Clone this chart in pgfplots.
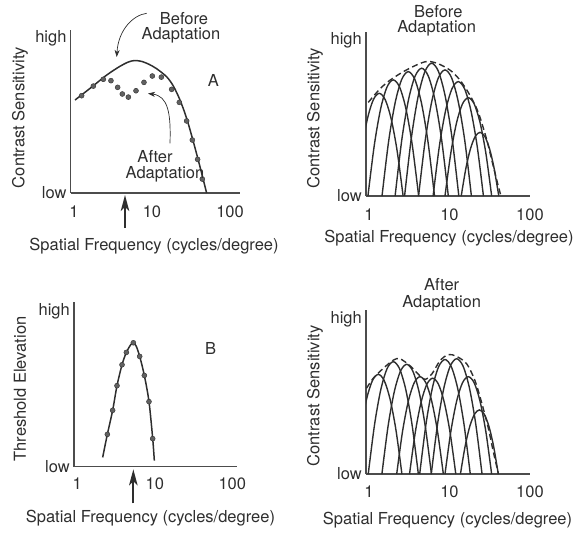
\documentclass[border=0pt]{standalone}
\usepackage{fontspec}
\setmainfont{TeX Gyre Heros}
\usepackage{pgfplots}
\pgfplotsset{compat=1.18}
\usetikzlibrary{arrows.meta}
\definecolor{ink}{gray}{0.18}
\definecolor{axisc}{gray}{0.30}
\definecolor{dotc}{gray}{0.38}
\newcommand{\lbl}{\fontsize{16.5}{19.8}\selectfont}

\pgfplotsset{
  panel/.style={
    scale only axis,
    axis lines=left,
    axis line style={-, line width=1.3pt, draw=axisc},
    ymin=0,
    xtick={0,1,2}, xticklabels={1,10,100},
    ytick={0,1}, yticklabels={low,high},
    major tick length=0pt,
    tick style={draw=none},
    font=\lbl,
    yticklabel style={anchor=east, inner sep=0pt, xshift=-4pt, text=ink},
    clip mode=individual,
    x label style={anchor=center, inner sep=0pt, text=ink},
    y label style={anchor=center, inner sep=0pt, text=ink},
    /pgf/number format/assume math mode=true,
  },
  chan/.style={smooth, no markers, line width=1.4pt, color=ink},
  env/.style={smooth, no markers, line width=1.4pt, dash pattern=on 6pt off 3.5pt, color=ink},
}

\begin{document}
\begin{tikzpicture}
\path[use as bounding box] (0pt,0pt) rectangle (586pt,-539pt);

% ---------------- Panel A ----------------
\begin{axis}[panel,
  at={(70.7pt,-193pt)}, anchor=south west,
  width=169.3pt, height=163pt,
  xmin=-0.042, xmax=2.128, ymax=1.052,
  xticklabel style={anchor=center, inner sep=0pt, yshift=-18.7pt, text=ink},
  xlabel={Spatial Frequency (cycles/degree)},
  ylabel={Contrast Sensitivity},
  xlabel style={at={(axis description cs:0.492,-0.329)}},
  ylabel style={at={(axis description cs:-0.2995,0.463)}},
]
\addplot[smooth, no markers, line width=1.5pt, color=ink] coordinates {
 (0.013,0.600) (0.205,0.675) (0.419,0.761) (0.590,0.818) (0.700,0.846)
 (0.780,0.855) (0.870,0.849) (0.960,0.831) (1.060,0.802) (1.188,0.750)
 (1.274,0.690) (1.359,0.600) (1.444,0.482) (1.530,0.331) (1.615,0.170)
 (1.700,0)};
\addplot[only marks, mark=*, mark size=2.5pt, mark options={fill=dotc, draw=ink, line width=0.4pt}] coordinates {
 (0.098,0.628) (0.248,0.690) (0.376,0.734) (0.474,0.725) (0.560,0.682)
 (0.620,0.639) (0.697,0.619) (0.795,0.660) (0.897,0.714) (1.004,0.755)
 (1.120,0.748) (1.252,0.669) (1.350,0.585) (1.444,0.465) (1.517,0.342)
 (1.585,0.217) (1.645,0.090)};
\draw[ink, line width=1.7pt, -{Stealth[length=16pt,width=8.5pt,inset=4pt]}]
  (axis cs:0.654,-0.226) -- (axis cs:0.654,-0.013);
\end{axis}

% ---------------- Panel top right ----------------
\begin{axis}[panel,
  at={(366pt,-196pt)}, anchor=south west,
  width=164pt, height=164.3pt,
  xmin=-0.037, xmax=2.0, ymax=1.053,
  xticklabel style={anchor=center, inner sep=0pt, yshift=-19pt, text=ink},
  xlabel={Spatial Frequency (cycles/degree)},
  ylabel={Contrast Sensitivity},
  xlabel style={at={(axis description cs:0.506,-0.2575)}},
  ylabel style={at={(axis description cs:-0.311,0.473)}},
]
\addplot[chan] coordinates {(-0.168,0) (-0.094,0.288) (-0.020,0.4935) (0.054,0.617) (0.128,0.658) (0.202,0.617) (0.276,0.4935) (0.350,0.288) (0.424,0)};
\addplot[chan] coordinates {(-0.013,0) (0.066,0.3255) (0.1445,0.558) (0.223,0.6975) (0.302,0.744) (0.381,0.6975) (0.4595,0.558) (0.538,0.3255) (0.617,0)};
\addplot[chan] coordinates {(0.162,0) (0.2435,0.3487) (0.325,0.5978) (0.4065,0.7472) (0.488,0.797) (0.5695,0.7472) (0.651,0.5978) (0.7325,0.3487) (0.814,0)};
\addplot[chan] coordinates {(0.3245,0) (0.4071,0.3583) (0.4898,0.6143) (0.5724,0.7678) (0.655,0.819) (0.7376,0.7678) (0.8202,0.6143) (0.9029,0.3583) (0.9855,0)};
\addplot[chan] coordinates {(0.4421,0) (0.5263,0.3723) (0.6106,0.6383) (0.6948,0.7978) (0.779,0.851) (0.8632,0.7978) (0.9474,0.6383) (1.0317,0.3723) (1.1159,0)};
\addplot[chan] coordinates {(0.6158,0) (0.6978,0.3535) (0.7799,0.606) (0.8619,0.7575) (0.944,0.808) (1.0261,0.7575) (1.1081,0.606) (1.1902,0.3535) (1.2722,0)};
\addplot[chan] coordinates {(0.7964,0) (0.8745,0.3207) (0.9527,0.5498) (1.0308,0.6872) (1.109,0.733) (1.1872,0.6872) (1.2653,0.5498) (1.3435,0.3207) (1.4216,0)};
\addplot[chan] coordinates {(0.9442,0) (1.0166,0.2756) (1.0891,0.4725) (1.1615,0.5906) (1.234,0.63) (1.3065,0.5906) (1.3789,0.4725) (1.4514,0.2756) (1.5238,0)};
\addplot[chan] coordinates {(1.1458,0) (1.2041,0.1785) (1.2624,0.306) (1.3207,0.3825) (1.379,0.408) (1.4373,0.3825) (1.4956,0.306) (1.5539,0.1785) (1.6122,0)};
\addplot[env] coordinates {
 (-0.009,0.600) (0.137,0.687) (0.261,0.742) (0.427,0.797) (0.592,0.840)
 (0.717,0.862) (0.841,0.852) (1.006,0.807) (1.130,0.743) (1.255,0.645)
 (1.358,0.535) (1.462,0.362) (1.524,0.233) (1.586,0.104) (1.636,0.006)};
\end{axis}

% ---------------- Panel B ----------------
\begin{axis}[panel,
  at={(74pt,-466.7pt)}, anchor=south west,
  width=163.3pt, height=165pt,
  xmin=-0.043, xmax=2.065, ymax=1.065,
  xticklabel style={anchor=center, inner sep=0pt, yshift=-16.7pt, text=ink},
  xlabel={Spatial Frequency (cycles/degree)},
  ylabel={Threshold Elevation},
  xlabel style={at={(axis description cs:0.468,-0.313)}},
  ylabel style={at={(axis description cs:-0.331,0.471)}},
]
\addplot[smooth, no markers, line width=1.5pt, color=ink] coordinates {
 (0.327,0.060) (0.3875,0.209) (0.456,0.364) (0.512,0.523) (0.577,0.658)
 (0.633,0.738) (0.690,0.788) (0.723,0.800) (0.760,0.778) (0.805,0.712)
 (0.865,0.589) (0.925,0.420) (0.973,0.181) (0.994,0.039)};
\addplot[only marks, mark=*, mark size=2.5pt, mark options={fill=dotc, draw=ink, line width=0.4pt}] coordinates {
 (0.3875,0.209) (0.456,0.364) (0.512,0.523) (0.577,0.658) (0.633,0.738)
 (0.723,0.800) (0.805,0.712) (0.865,0.589) (0.925,0.420) (0.973,0.181)};
\draw[ink, line width=1.7pt, -{Stealth[length=16pt,width=8.5pt,inset=4pt]}]
  (axis cs:0.723,-0.236) -- (axis cs:0.723,-0.017);
\end{axis}

% ---------------- Panel bottom right ----------------
\begin{axis}[panel,
  at={(366pt,-474pt)}, anchor=south west,
  width=164pt, height=164pt,
  xmin=-0.037, xmax=2.0, ymax=1.06,
  xticklabel style={anchor=center, inner sep=0pt, yshift=-17.7pt, text=ink},
  xlabel={Spatial Frequency (cycles/degree)},
  ylabel={Contrast Sensitivity},
  xlabel style={at={(axis description cs:0.497,-0.280)}},
  ylabel style={at={(axis description cs:-0.311,0.477)}},
]
\addplot[chan] coordinates {(-0.177,0) (-0.1038,0.2818) (-0.0305,0.483) (0.0427,0.6038) (0.116,0.644) (0.1893,0.6038) (0.2625,0.483) (0.3358,0.2818) (0.409,0)};
\addplot[chan] coordinates {(-0.0091,0) (0.0687,0.3176) (0.1464,0.5445) (0.2242,0.6806) (0.302,0.726) (0.3798,0.6806) (0.4576,0.5445) (0.5353,0.3176) (0.6131,0)};
\addplot[chan] coordinates {(0.1605,0) (0.2374,0.3102) (0.3143,0.5318) (0.3911,0.6647) (0.468,0.709) (0.5449,0.6647) (0.6217,0.5318) (0.6986,0.3102) (0.7755,0)};
\addplot[chan] coordinates {(0.3444,0) (0.4168,0.2752) (0.4892,0.4718) (0.5616,0.5897) (0.634,0.629) (0.7064,0.5897) (0.7788,0.4718) (0.8512,0.2752) (0.9236,0)};
\addplot[chan] coordinates {(0.5037,0) (0.5755,0.2708) (0.6473,0.4643) (0.7192,0.5803) (0.791,0.619) (0.8628,0.5803) (0.9347,0.4643) (1.0065,0.2708) (1.0783,0)};
\addplot[chan] coordinates {(0.6299,0) (0.7084,0.3238) (0.7869,0.555) (0.8655,0.6938) (0.944,0.74) (1.0225,0.6938) (1.1011,0.555) (1.1796,0.3238) (1.2581,0)};
\addplot[chan] coordinates {(0.7738,0) (0.8526,0.3259) (0.9314,0.5588) (1.0102,0.6984) (1.089,0.745) (1.1678,0.6984) (1.2466,0.5588) (1.3254,0.3259) (1.4042,0)};
\addplot[chan] coordinates {(0.9444,0) (1.0168,0.2752) (1.0892,0.4718) (1.1616,0.5897) (1.234,0.629) (1.3064,0.5897) (1.3788,0.4718) (1.4512,0.2752) (1.5236,0)};
\addplot[chan] coordinates {(1.136,0) (1.1948,0.1811) (1.2535,0.3105) (1.3123,0.3881) (1.371,0.414) (1.4297,0.3881) (1.4885,0.3105) (1.5472,0.1811) (1.606,0)};
\addplot[env] coordinates {
 (-0.031,0.554) (0.053,0.619) (0.178,0.683) (0.302,0.736) (0.385,0.745)
 (0.509,0.700) (0.612,0.645) (0.696,0.612) (0.779,0.645) (0.882,0.732)
 (0.985,0.772) (1.089,0.760) (1.214,0.712) (1.317,0.603) (1.400,0.460)
 (1.482,0.297) (1.544,0.145) (1.606,0.005)};
\end{axis}

% ---------------- Annotations ----------------
\begin{scope}[every node/.style={font=\lbl, text=ink, inner sep=0pt, anchor=center}]
\node at (184pt,-18.3pt) {Before};
\node at (181pt,-35pt) {Adaptation};
\node at (213.3pt,-80pt) {A};
\node at (155pt,-156.7pt) {After};
\node at (165pt,-174.3pt) {Adaptation};
\node at (438.3pt,-11.7pt) {Before};
\node at (436.7pt,-28.3pt) {Adaptation};
\node at (210.7pt,-348.3pt) {B};
\node at (441.7pt,-285pt) {After};
\node at (441.7pt,-303.3pt) {Adaptation};
\end{scope}
\draw[ink, line width=0.7pt, -{Stealth[length=7pt,width=5pt,inset=2pt]}]
  (146.7pt,-13.3pt) .. controls (133pt,-15pt) and (118.3pt,-30pt) .. (116.7pt,-57pt);
\draw[ink, line width=0.7pt, -{Stealth[length=7pt,width=5pt,inset=2pt]}]
  (170pt,-143.3pt) .. controls (171pt,-113pt) and (168pt,-96pt) .. (148pt,-93.5pt);
\end{tikzpicture}
\end{document}
